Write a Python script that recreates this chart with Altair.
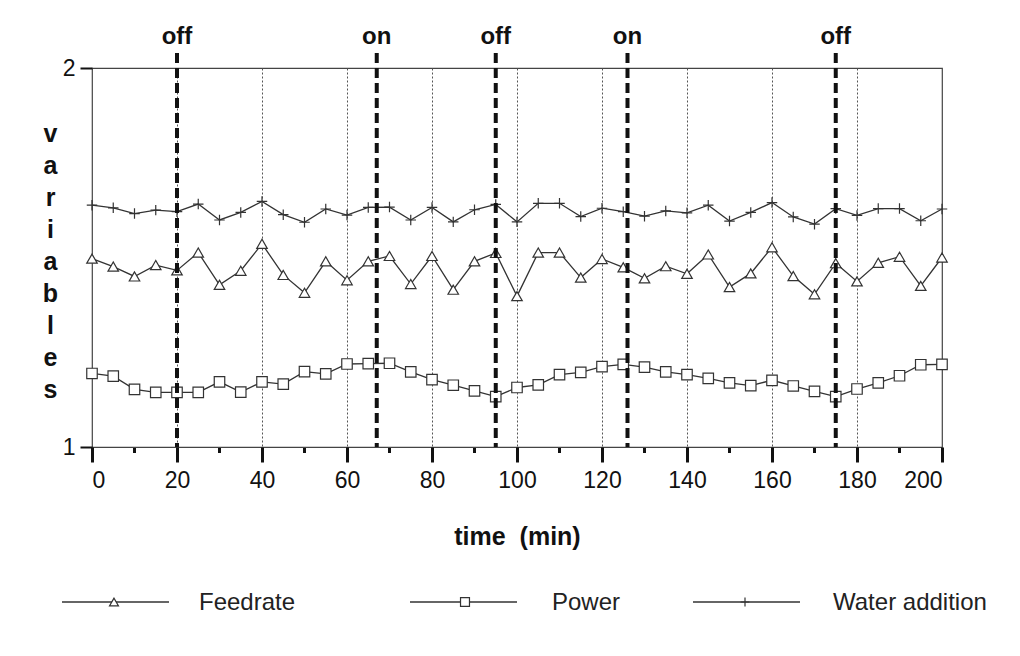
import altair as alt
import pandas as pd

# sampling times (min)
time = [0, 5, 10, 15, 20, 25, 30, 35, 40, 45, 50, 55, 60, 65, 70, 75, 80, 85, 90, 95,
        100, 105, 110, 115, 120, 125, 130, 135, 140, 145, 150, 155, 160, 165, 170, 175,
        180, 185, 190, 195, 200]

feedrate = [1.497, 1.476, 1.450, 1.480, 1.466, 1.513, 1.428, 1.465, 1.536, 1.454,
            1.407, 1.490, 1.440, 1.490, 1.504, 1.430, 1.504, 1.415, 1.490, 1.512,
            1.398, 1.513, 1.513, 1.447, 1.496, 1.474, 1.445, 1.477, 1.457, 1.508,
            1.422, 1.458, 1.527, 1.451, 1.403, 1.485, 1.437, 1.486, 1.502, 1.425,
            1.500]

power = [1.194, 1.187, 1.152, 1.144, 1.144, 1.144, 1.172, 1.145, 1.172, 1.166,
         1.199, 1.193, 1.219, 1.220, 1.221, 1.198, 1.178, 1.163, 1.148, 1.133,
         1.157, 1.164, 1.191, 1.197, 1.212, 1.218, 1.211, 1.198, 1.191, 1.181,
         1.169, 1.162, 1.176, 1.161, 1.147, 1.133, 1.153, 1.169, 1.188, 1.217,
         1.218]

water = [1.638, 1.631, 1.616, 1.625, 1.621, 1.641, 1.599, 1.619, 1.648, 1.613,
         1.593, 1.628, 1.612, 1.632, 1.633, 1.599, 1.632, 1.594, 1.626, 1.640,
         1.594, 1.643, 1.643, 1.608, 1.630, 1.621, 1.609, 1.623, 1.618, 1.638,
         1.596, 1.619, 1.645, 1.607, 1.588, 1.629, 1.611, 1.629, 1.629, 1.597,
         1.628]

# controller switching events
event_time = [20, 67, 95, 126, 175]
event_label = ["off", "on", "off", "on", "off"]

major_ticks = [0, 20, 40, 60, 80, 100, 120, 140, 160, 180, 200]
minor_ticks = [10, 30, 50, 70, 90, 110, 130, 150, 170, 190]

W, H = 850, 379
FONT = "Liberation Sans"
INK = "#333333"
PLUS = "M-1,0H1M0,-1V1"

df = pd.concat([
    pd.DataFrame({"time": time, "value": feedrate, "series": "Feedrate"}),
    pd.DataFrame({"time": time, "value": power, "series": "Power"}),
    pd.DataFrame({"time": time, "value": water, "series": "Water addition"}),
])
events = pd.DataFrame({"time": event_time, "label": event_label})
minors = pd.DataFrame({"time": minor_ticks})

x = alt.X("time:Q", scale=alt.Scale(domain=[0, 200], nice=False),
          axis=alt.Axis(values=major_ticks, tickSize=15, tickWidth=3, tickColor="#111",
                        labelFont=FONT, labelFontSize=23, labelColor="#111", labelPadding=7,
                        domain=False, grid=True, gridDash=[2, 2], gridColor="#555",
                        gridWidth=1, title="time\u00a0\u00a0(min)", titleFont=FONT,
                        titleFontSize=25, titleFontWeight="bold", titleColor="#111",
                        titleY=89, titleBaseline="middle"))
y = alt.Y("value:Q", scale=alt.Scale(domain=[1, 2], nice=False, zero=False),
          axis=alt.Axis(values=[1, 2], format="d", tickSize=12, tickWidth=2,
                        tickColor="#111", labelFont=FONT, labelFontSize=23,
                        labelColor="#111", labelPadding=5,
                        domain=False, grid=False,
                        title=list("variables"), titleAngle=0, titleFont=FONT,
                        titleFontSize=25, titleFontWeight="bold", titleColor="#111",
                        titleLineHeight=32, titleX=-42, titleY=65,
                        titleBaseline="middle", titleAlign="center"))

base = alt.Chart(df)
lines = base.mark_line(color=INK, strokeWidth=1.3).encode(x=x, y=y, detail="series:N")

tri = base.transform_filter(alt.datum.series == "Feedrate").mark_point(
    shape="triangle-up", size=110, filled=True, fill="white", stroke=INK,
    strokeWidth=1.2, opacity=1).encode(x=x, y=y)
sq = base.transform_filter(alt.datum.series == "Power").mark_point(
    shape="square", size=110, filled=True, fill="white", stroke=INK,
    strokeWidth=1.2, opacity=1).encode(x=x, y=y)
plus = base.transform_filter(alt.datum.series == "Water addition").mark_point(
    shape=PLUS, size=110, filled=False, stroke=INK, strokeWidth=1.2,
    opacity=1).encode(x=x, y=y)

minor = alt.Chart(minors).mark_rule(color="#111", strokeWidth=3).encode(
    x="time:Q", y=alt.value(H + 1), y2=alt.value(H + 6))

ev_lines = alt.Chart(events).mark_rule(color="#111", strokeWidth=4,
                                       strokeDash=[10, 5]).encode(
    x="time:Q", y=alt.value(-15), y2=alt.value(H))
ev_text = alt.Chart(events).mark_text(font=FONT, fontSize=24, fontWeight="bold",
                                      color="#111", baseline="middle").encode(
    x="time:Q", y=alt.value(-31), text="label:N")

# hand-drawn legend row below the x-axis title
LY = 534
legend_layers = []
for name, shape, x0, xm, xt in [("Feedrate", "triangle-up", -30, 22, 107),
                                 ("Power", "square", 318, 373, 460),
                                 ("Water addition", PLUS, 601, 653, 741)]:
    ld = pd.DataFrame({"name": [name]})
    c = alt.Chart(ld)
    legend_layers.append(c.mark_rule(color=INK, strokeWidth=1.3).encode(
        x=alt.value(x0), x2=alt.value(x0 + 107), y=alt.value(LY)))
    legend_layers.append(c.mark_point(shape=shape, size=80, filled=shape != PLUS,
                                      fill="white", stroke=INK, strokeWidth=1.2,
                                      opacity=1).encode(
        x=alt.value(xm), y=alt.value(LY)))
    legend_layers.append(c.mark_text(font=FONT, fontSize=24, color="#222",
                                     align="left", baseline="middle").encode(
        x=alt.value(xt), y=alt.value(LY + 1), text="name:N"))

chart = alt.layer(lines, tri, sq, plus, minor, ev_lines, ev_text,
                  *legend_layers).properties(
    width=W, height=H, autosize="none",
    padding={"left": 92, "top": 68, "right": 1020 - 92 - W, "bottom": 656 - 68 - H},
    background="white",
).configure_view(stroke="#444", strokeWidth=1.2)

chart.save("out.html", embed_options={"renderer": "svg", "actions": False})
